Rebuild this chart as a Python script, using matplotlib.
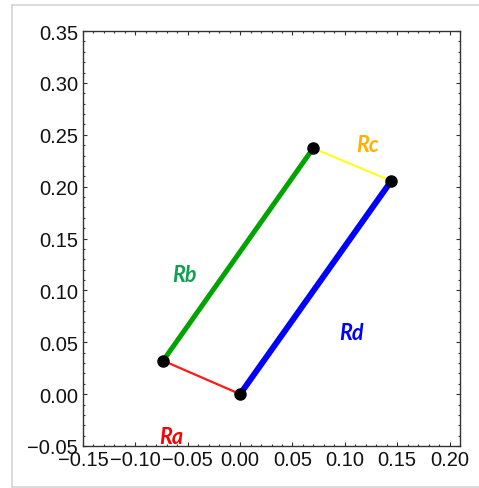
import matplotlib
matplotlib.use("Agg")
import matplotlib.pyplot as plt
from matplotlib.ticker import MultipleLocator
from matplotlib.lines import Line2D

# Joint coordinates of the four-bar linkage
joint_x = [0.0, -0.0735, 0.0698, 0.1443]
joint_y = [0.0, 0.0322, 0.2370, 0.2054]

# Links: (start joint, end joint)
link_names = ["Ra", "Rb", "Rc", "Rd"]
link_pairs = [(0, 1), (1, 2), (2, 3), (3, 0)]
link_colors = ["#ff1a1a", "#00a400", "#ffff1a", "#0000ff"]
link_widths = [1.6, 3.6, 1.5, 4.3]

# Label positions and colours
label_x = [-0.066, -0.053, 0.122, 0.106]
label_y = [-0.041, 0.115, 0.241, 0.0595]
label_colors = ["#ff0000", "#10a050", "#ffb000", "#0000ff"]

x_ticks = [-0.15, -0.10, -0.05, 0.00, 0.05, 0.10, 0.15, 0.20]
y_ticks = [-0.05, 0.00, 0.05, 0.10, 0.15, 0.20, 0.25, 0.30, 0.35]

fig = plt.figure(figsize=(4.79, 4.89), dpi=100)
ax = fig.add_axes([83/479, 42/489, 377/479, 415/489])

for (a, b), c, w in zip(link_pairs, link_colors, link_widths):
    ax.plot([joint_x[a], joint_x[b]], [joint_y[a], joint_y[b]],
            color=c, lw=w, solid_capstyle="butt", zorder=2)

ax.plot(joint_x, joint_y, "o", color="black", markersize=8, zorder=3, ls="none")

for name, x, y, c in zip(link_names, label_x, label_y, label_colors):
    ax.text(x, y, name, color=c, fontsize=15.5, fontweight="bold", fontstyle="italic",
            family="Lato", ha="center", va="center", zorder=4)

ax.set_xlim(-0.15, 0.21)
ax.set_ylim(-0.05, 0.35)
ax.set_xticks(x_ticks)
ax.set_yticks(y_ticks)
ax.set_xticklabels([f"{v:.2f}".replace("-", "\u2212") for v in x_ticks])
ax.set_yticklabels([f"{v:.2f}".replace("-", "\u2212") for v in y_ticks])
ax.xaxis.set_minor_locator(MultipleLocator(0.01))
ax.yaxis.set_minor_locator(MultipleLocator(0.01))
ax.tick_params(which="both", direction="in", top=True, right=True, color="#333333", width=0.8)
ax.tick_params(which="major", length=3.2)
ax.tick_params(which="minor", length=1.6)
ax.tick_params(axis="x", which="major", pad=3.0)
ax.tick_params(axis="y", which="major", pad=3.5)
for lab in ax.get_xticklabels() + ax.get_yticklabels():
    lab.set_family("Liberation Sans")
    lab.set_fontsize(14.5)
    lab.set_color("#111111")
for s in ax.spines.values():
    s.set_color("#333333")
    s.set_linewidth(1.0)

# light gray frame around the figure
bc = "#d4d4d4"
fig.add_artist(Line2D([11.5/479, 1.0], [1 - 5.5/489, 1 - 5.5/489], color=bc, lw=1.2, transform=fig.transFigure))
fig.add_artist(Line2D([11.5/479, 11.5/479], [1 - 5.5/489, 1 - 487.5/489], color=bc, lw=1.2, transform=fig.transFigure))
fig.add_artist(Line2D([11.5/479, 1.0], [1 - 487.5/489, 1 - 487.5/489], color=bc, lw=1.2, transform=fig.transFigure))

fig.savefig("out.png", dpi=100)
